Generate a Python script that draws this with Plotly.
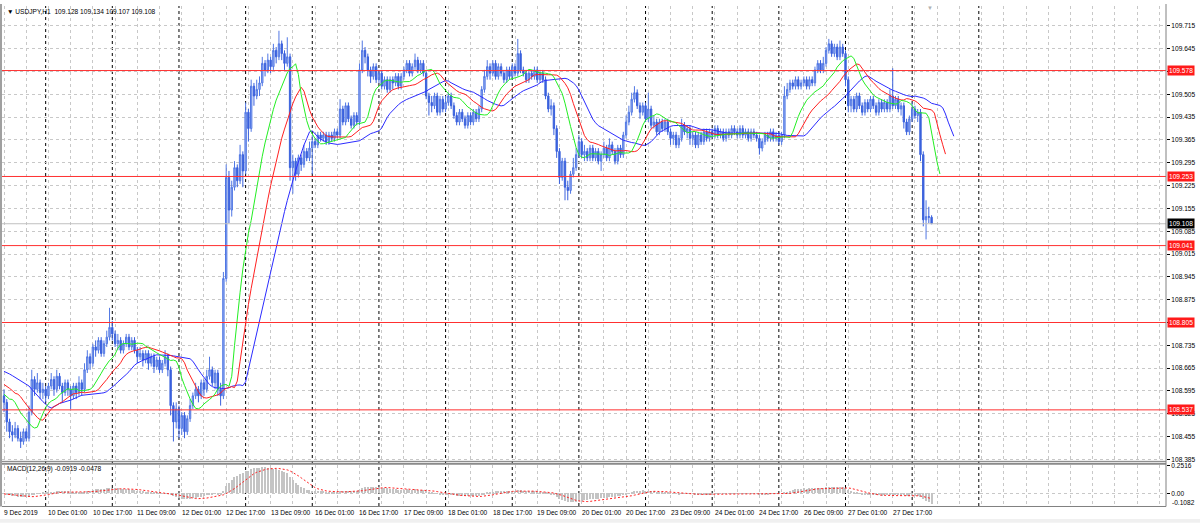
import plotly.graph_objects as go

# ---------------- data ----------------
first_open = 108.58

close = [
    108.56,108.50,108.47,108.46,108.48,108.45,108.44,108.47,108.45,108.53,108.63,108.60,108.62,108.59,108.60,108.58,
    108.61,108.63,108.60,108.64,108.61,108.59,108.62,108.60,108.58,108.61,108.59,108.62,108.60,108.66,108.70,108.68,
    108.73,108.72,108.75,108.71,108.74,108.76,108.79,108.77,108.74,108.75,108.72,108.74,108.76,108.73,108.75,108.72,
    108.70,108.71,108.69,108.71,108.68,108.70,108.67,108.69,108.66,108.68,108.70,108.66,108.55,108.50,108.54,108.48,
    108.52,108.47,108.51,108.55,108.58,108.60,108.58,108.62,108.60,108.64,108.66,108.62,108.65,108.60,108.58,108.94,
    109.25,109.15,109.22,109.28,109.24,109.32,109.27,109.45,109.40,109.53,109.50,109.52,109.54,109.60,109.58,109.61,
    109.59,109.64,109.62,109.66,109.63,109.60,109.62,109.28,109.30,109.26,109.31,109.29,109.33,109.31,109.34,109.36,
    109.35,109.38,109.37,109.38,109.36,109.38,109.37,109.39,109.38,109.46,109.42,109.47,109.43,109.41,109.44,109.42,
    109.58,109.64,109.62,109.58,109.56,109.59,109.55,109.57,109.53,109.55,109.52,109.55,109.54,109.56,109.53,109.56,
    109.58,109.60,109.57,109.59,109.61,109.58,109.60,109.57,109.50,109.48,109.47,109.50,109.45,109.49,109.46,109.48,
    109.50,109.47,109.44,109.42,109.45,109.43,109.41,109.44,109.42,109.45,109.43,109.46,109.52,109.56,109.59,109.57,
    109.60,109.56,109.59,109.57,109.55,109.58,109.56,109.59,109.57,109.63,109.58,109.57,109.55,109.57,109.56,109.58,
    109.55,109.57,109.55,109.50,109.46,109.47,109.40,109.33,109.25,109.30,109.22,109.21,109.26,109.28,109.32,109.36,
    109.32,109.33,109.31,109.34,109.31,109.33,109.30,109.32,109.34,109.31,109.35,109.33,109.30,109.34,109.32,109.38,
    109.42,109.45,109.49,109.51,109.47,109.45,109.47,109.43,109.46,109.41,109.42,109.39,109.42,109.40,109.42,109.39,
    109.37,109.38,109.35,109.37,109.41,109.39,109.40,109.37,109.38,109.35,109.38,109.36,109.39,109.37,109.39,109.38,
    109.40,109.38,109.39,109.37,109.39,109.38,109.40,109.39,109.38,109.40,109.38,109.39,109.37,109.39,109.38,109.37,
    109.34,109.36,109.38,109.37,109.39,109.37,109.38,109.36,109.38,109.50,109.52,109.54,109.53,109.55,109.53,109.54,
    109.55,109.53,109.55,109.54,109.58,109.60,109.58,109.60,109.64,109.66,109.63,109.65,109.62,109.65,109.63,109.55,
    109.47,109.49,109.46,109.50,109.47,109.45,109.48,109.46,109.49,109.47,109.45,109.48,109.46,109.48,109.46,109.50,
    109.47,109.49,109.46,109.47,109.42,109.39,109.43,109.46,109.44,109.45,109.32,109.12,109.13,109.128,109.108,
]

high = [
    108.60,108.57,108.51,108.49,108.50,108.49,108.47,108.48,108.48,108.55,108.66,108.64,108.65,108.63,108.62,108.61,
    108.62,108.65,108.64,108.66,108.65,108.62,108.63,108.63,108.61,108.62,108.62,108.64,108.63,108.68,108.72,108.71,
    108.74,108.75,108.76,108.76,108.75,108.78,108.85,108.81,108.78,108.77,108.76,108.75,108.77,108.77,108.76,108.76,
    108.73,108.73,108.72,108.72,108.72,108.71,108.71,108.70,108.70,108.69,108.72,108.71,108.67,108.56,108.56,108.55,
    108.53,108.53,108.52,108.57,108.59,108.62,108.61,108.63,108.63,108.66,108.70,108.67,108.66,108.66,108.62,108.96,
    109.29,109.27,109.24,109.30,109.29,109.35,109.33,109.48,109.46,109.55,109.54,109.55,109.56,109.62,109.61,109.63,
    109.62,109.66,109.65,109.70,109.67,109.64,109.68,109.63,109.32,109.31,109.32,109.32,109.35,109.34,109.36,109.38,
    109.37,109.39,109.39,109.39,109.39,109.39,109.39,109.40,109.40,109.49,109.47,109.48,109.48,109.44,109.45,109.45,
    109.60,109.67,109.65,109.63,109.59,109.60,109.60,109.58,109.58,109.56,109.56,109.56,109.56,109.57,109.57,109.57,
    109.59,109.61,109.61,109.60,109.63,109.62,109.61,109.61,109.58,109.51,109.50,109.51,109.51,109.50,109.50,109.50,
    109.51,109.51,109.48,109.45,109.46,109.46,109.44,109.45,109.45,109.46,109.46,109.47,109.53,109.58,109.61,109.60,
    109.61,109.61,109.60,109.60,109.58,109.59,109.59,109.60,109.60,109.675,109.64,109.59,109.58,109.58,109.58,109.59,
    109.59,109.58,109.58,109.56,109.51,109.49,109.48,109.41,109.34,109.31,109.31,109.24,109.27,109.31,109.34,109.38,
    109.37,109.35,109.34,109.35,109.35,109.34,109.34,109.33,109.36,109.35,109.37,109.36,109.34,109.35,109.35,109.39,
    109.44,109.47,109.51,109.53,109.52,109.48,109.48,109.48,109.51,109.47,109.44,109.43,109.43,109.43,109.43,109.43,
    109.40,109.39,109.39,109.38,109.43,109.42,109.41,109.41,109.39,109.39,109.39,109.39,109.40,109.40,109.40,109.40,
    109.41,109.41,109.40,109.40,109.40,109.40,109.41,109.41,109.40,109.41,109.41,109.40,109.40,109.40,109.40,109.39,
    109.38,109.37,109.39,109.39,109.40,109.40,109.39,109.39,109.39,109.53,109.54,109.55,109.55,109.56,109.56,109.55,
    109.56,109.56,109.56,109.56,109.59,109.61,109.61,109.62,109.65,109.675,109.67,109.66,109.66,109.67,109.66,109.64,
    109.56,109.50,109.50,109.51,109.51,109.48,109.49,109.49,109.50,109.50,109.48,109.49,109.49,109.49,109.49,109.52,
    109.585,109.50,109.50,109.48,109.48,109.43,109.44,109.48,109.47,109.46,109.46,109.33,109.18,109.16,109.134,
]

low = [
    108.53,108.47,108.45,108.44,108.45,108.44,108.42,108.43,108.44,108.44,108.52,108.58,108.59,108.57,108.57,108.56,
    108.57,108.60,108.58,108.59,108.60,108.56,108.58,108.58,108.54,108.57,108.57,108.58,108.58,108.59,108.65,108.66,
    108.67,108.70,108.71,108.70,108.70,108.73,108.75,108.75,108.73,108.72,108.71,108.71,108.73,108.72,108.72,108.71,
    108.68,108.69,108.67,108.68,108.66,108.67,108.65,108.66,108.65,108.65,108.67,108.64,108.52,108.44,108.48,108.45,
    108.46,108.45,108.46,108.50,108.54,108.57,108.56,108.57,108.58,108.59,108.63,108.61,108.60,108.58,108.55,108.57,
    108.93,109.11,109.13,109.21,109.22,109.23,109.22,109.26,109.36,109.39,109.47,109.49,109.50,109.53,109.56,109.57,
    109.57,109.58,109.60,109.61,109.61,109.58,109.59,109.24,109.20,109.24,109.25,109.27,109.28,109.30,109.30,109.26,
    109.34,109.34,109.36,109.36,109.35,109.35,109.36,109.36,109.37,109.37,109.41,109.41,109.42,109.40,109.40,109.41,
    109.41,109.57,109.60,109.56,109.54,109.55,109.54,109.54,109.52,109.52,109.51,109.51,109.52,109.53,109.52,109.52,
    109.55,109.57,109.56,109.56,109.58,109.57,109.57,109.56,109.49,109.44,109.45,109.46,109.44,109.44,109.45,109.45,
    109.47,109.46,109.43,109.41,109.41,109.42,109.40,109.40,109.41,109.41,109.42,109.42,109.45,109.51,109.55,109.55,
    109.56,109.55,109.55,109.56,109.54,109.54,109.55,109.55,109.56,109.56,109.57,109.56,109.54,109.54,109.55,109.55,
    109.54,109.54,109.54,109.49,109.45,109.44,109.38,109.31,109.23,109.24,109.18,109.18,109.20,109.25,109.27,109.31,
    109.31,109.30,109.30,109.30,109.30,109.30,109.29,109.27,109.31,109.30,109.30,109.32,109.29,109.29,109.31,109.31,
    109.37,109.41,109.44,109.48,109.46,109.43,109.44,109.42,109.42,109.40,109.40,109.38,109.38,109.39,109.39,109.38,
    109.35,109.35,109.34,109.34,109.36,109.38,109.37,109.35,109.35,109.34,109.34,109.35,109.35,109.36,109.36,109.37,
    109.37,109.37,109.37,109.36,109.36,109.37,109.37,109.38,109.37,109.37,109.37,109.37,109.36,109.36,109.37,109.36,
    109.32,109.33,109.35,109.36,109.36,109.36,109.36,109.35,109.35,109.37,109.49,109.51,109.52,109.52,109.52,109.52,
    109.53,109.52,109.52,109.53,109.53,109.57,109.57,109.57,109.59,109.63,109.62,109.62,109.61,109.61,109.62,109.53,
    109.45,109.45,109.45,109.45,109.46,109.44,109.44,109.45,109.45,109.46,109.44,109.44,109.45,109.45,109.45,109.45,
    109.46,109.46,109.45,109.44,109.40,109.38,109.38,109.42,109.43,109.42,109.30,109.10,109.06,109.11,109.107,
]

# Alligator line values at the very left edge (before enough bars exist)
jaw_lead = [108.655, 108.652, 108.647, 108.642, 108.637, 108.632, 108.627, 108.622]
teeth_lead = [108.615, 108.610, 108.603, 108.596, 108.588]
lips_lead = [108.585, 108.578, 108.570]

time_labels = ["9 Dec 2019", "10 Dec 01:00", "10 Dec 17:00", "11 Dec 09:00", "12 Dec 01:00",
               "12 Dec 17:00", "13 Dec 09:00", "16 Dec 01:00", "16 Dec 17:00", "17 Dec 09:00",
               "18 Dec 01:00", "18 Dec 17:00", "19 Dec 09:00", "20 Dec 01:00", "20 Dec 17:00",
               "23 Dec 09:00", "24 Dec 01:00", "24 Dec 17:00", "26 Dec 09:00", "27 Dec 01:00",
               "27 Dec 17:00"]

price_ticks = [109.715, 109.645, 109.575, 109.505, 109.435, 109.365, 109.295, 109.225, 109.155,
               109.085, 109.015, 108.945, 108.875, 108.805, 108.735, 108.665, 108.595, 108.525,
               108.455, 108.385]
# grid prices whose label is fully hidden under a level label box in the reference
hidden_tick_labels = [109.575, 108.805]

level_lines = [109.578, 109.253, 109.041, 108.805, 108.537]
bid_price = 109.108
macd_top, macd_bottom = 0.2516, -0.1082
macd_ticks = [0.2516, 0.0]
macd_ticktext = ["0.2516", "0.00"]
macd_bottom_text = "-0.1082"
title_text = "▼ USDJPY,H1  109.128 109.134 109.107 109.108"
macd_text = "MACD(12,26,9) -0.0919 -0.0478"

assert len(close) == len(high) == len(low)
n = len(close)
xs = list(range(n))
opens = [first_open] + close[:-1]

# ---------------- indicators ----------------
median = [(h + l) / 2 for h, l in zip(high, low)]


def smma(vals, period, seed):
    out, s = [], seed
    for v in vals:
        s = (s * (period - 1) + v) / period
        out.append(s)
    return out


jaw = jaw_lead + smma(median, 13, jaw_lead[-1])
teeth = teeth_lead + smma(median, 8, teeth_lead[-1])
lips = lips_lead + smma(median, 5, lips_lead[-1])


def ema(vals, period, seed):
    a = 2 / (period + 1)
    out, s = [], seed
    for v in vals:
        s = s + a * (v - s)
        out.append(s)
    return out


e12 = ema(close, 12, first_open)
e26 = ema(close, 26, first_open)
macd = [a - b for a, b in zip(e12, e26)]
signal = []
for i in range(n):
    w = macd[max(0, i - 8):i + 1]
    signal.append(sum(w) / len(w))

# ---------------- geometry ----------------
PL, PR, PT, PB = 2, 1166, 2, 506
W, H = PR - PL, PB - PT


def py(y):
    return (PB - y) / H


def px(x):
    return (x - PL) / W


X_RANGE = [-0.72, 418.4]
FONT = "Liberation Sans"
FS = 6.6

fig = go.Figure()

fig.add_trace(go.Candlestick(
    x=xs, open=opens, high=high, low=low, close=close,
    increasing=dict(line=dict(color="#5077e4", width=1), fillcolor="#9fb4f1"),
    decreasing=dict(line=dict(color="#3a61dd", width=1), fillcolor="#3a61dd"),
    whiskerwidth=0, xaxis="x", yaxis="y", hoverinfo="skip", showlegend=False))

fig.add_trace(go.Scatter(x=list(range(len(jaw))), y=jaw, mode="lines",
                         line=dict(color="#2b2bff", width=1), xaxis="x", yaxis="y",
                         showlegend=False, hoverinfo="skip"))
fig.add_trace(go.Scatter(x=list(range(len(teeth))), y=teeth, mode="lines",
                         line=dict(color="#ff2020", width=1), xaxis="x", yaxis="y",
                         showlegend=False, hoverinfo="skip"))
fig.add_trace(go.Scatter(x=list(range(len(lips))), y=lips, mode="lines",
                         line=dict(color="#22ee22", width=1), xaxis="x", yaxis="y",
                         showlegend=False, hoverinfo="skip"))

fig.add_trace(go.Bar(x=xs, y=macd, width=0.4, marker=dict(color="#c4c4c4", line=dict(width=0)),
                     xaxis="x2", yaxis="y2", showlegend=False, hoverinfo="skip"))
fig.add_trace(go.Scatter(x=xs, y=signal, mode="lines",
                         line=dict(color="#ff2020", width=1, dash="2px,2px"),
                         xaxis="x2", yaxis="y2", showlegend=False, hoverinfo="skip"))

grid_x = list(range(0, 419, 8))
axis_common = dict(range=X_RANGE, tickvals=grid_x, showticklabels=False, showgrid=True,
                   gridcolor="#c8c8c8", griddash="3px,3px", gridwidth=1, zeroline=False,
                   showline=False, ticks="", fixedrange=True)

shapes = []
# day separators
for b in range(15, 352, 24):
    shapes.append(dict(type="line", xref="x", yref="paper", x0=b, x1=b, y0=py(PB), y1=1,
                       line=dict(color="#000000", width=1, dash="3px,3px"), layer="below"))
# level lines
for p in level_lines:
    shapes.append(dict(type="line", xref="paper", yref="y", x0=0, x1=1, y0=p, y1=p,
                       line=dict(color="#ff3030", width=1)))
shapes.append(dict(type="line", xref="paper", yref="y", x0=0, x1=1, y0=bid_price, y1=bid_price,
                   line=dict(color="#c0c0c0", width=1)))
# frame pieces
shapes += [
    dict(type="line", xref="paper", yref="paper", x0=0, x1=1, y0=py(461), y1=py(461),
         line=dict(color="#7a7a7a", width=1)),
    dict(type="line", xref="paper", yref="paper", x0=0, x1=1, y0=py(463.5), y1=py(463.5),
         line=dict(color="#8a8a8a", width=2)),
    dict(type="line", xref="paper", yref="paper", x0=0, x1=1, y0=py(506.5), y1=py(506.5),
         line=dict(color="#808080", width=1)),
    dict(type="line", xref="paper", yref="paper", x0=1, x1=1, y0=py(506.5), y1=py(0),
         line=dict(color="#808080", width=1)),
    dict(type="line", xref="paper", yref="paper", x0=px(1), x1=px(1), y0=py(506.5), y1=py(0),
         line=dict(color="#a0a0a0", width=2)),
    dict(type="rect", xref="paper", yref="paper", x0=px(0), x1=px(1200), y0=py(519), y1=py(523),
         fillcolor="#f0f0f0", line=dict(width=0), layer="below"),
]

annotations = []
for p in level_lines:
    annotations.append(dict(xref="paper", yref="y", x=1, y=p, xanchor="left", yanchor="middle",
                            xshift=1, text=f"{p:.3f}", showarrow=False,
                            font=dict(family=FONT, size=FS, color="#ffffff"),
                            bgcolor="#ff1a1a", borderpad=1))
annotations.append(dict(xref="paper", yref="y", x=1, y=bid_price, xanchor="left", yanchor="middle",
                        xshift=1, text=f"{bid_price:.3f}", showarrow=False,
                        font=dict(family=FONT, size=FS, color="#ffffff"),
                        bgcolor="#000000", borderpad=1))
annotations.append(dict(xref="paper", yref="paper", x=px(5), y=py(8), xanchor="left",
                        yanchor="middle", text=title_text, showarrow=False,
                        font=dict(family=FONT, size=FS, color="#000000")))
annotations.append(dict(xref="paper", yref="paper", x=px(5), y=py(469), xanchor="left",
                        yanchor="middle", text=macd_text, showarrow=False,
                        font=dict(family=FONT, size=FS, color="#000000")))
annotations.append(dict(xref="paper", yref="paper", x=1, y=py(502.5), xanchor="left",
                        yanchor="middle", xshift=4, text=macd_bottom_text, showarrow=False,
                        font=dict(family=FONT, size=FS, color="#000000")))
for i, lab in enumerate(time_labels):
    annotations.append(dict(xref="x2", yref="paper", x=16 * i, y=py(512.5), xanchor="left",
                            yanchor="middle", xshift=-2, text=lab, showarrow=False,
                            font=dict(family=FONT, size=FS, color="#000000")))
annotations.append(dict(xref="x", yref="paper", x=333.5, y=py(4), xanchor="center",
                        yanchor="middle", text="▼", showarrow=False,
                        font=dict(family=FONT, size=6, color="#b0b0b0")))

price_ticktext = ["" if v in hidden_tick_labels else f"{v:.3f}" for v in price_ticks]

fig.update_layout(
    width=1200, height=523,
    margin=dict(l=PL, r=1200 - PR, t=PT, b=523 - PB, pad=0),
    paper_bgcolor="#ffffff", plot_bgcolor="#ffffff",
    showlegend=False, bargap=0, dragmode=False,
    font=dict(family=FONT, size=FS, color="#000000"),
    xaxis=dict(anchor="y", domain=[0, 1], rangeslider=dict(visible=False), **axis_common),
    xaxis2=dict(anchor="y2", domain=[0, 1], matches="x", **axis_common),
    yaxis=dict(anchor="x", domain=[py(461), 1], range=[108.379, 109.776], side="right",
               tickvals=price_ticks, ticktext=price_ticktext,
               showgrid=True, gridcolor="#c8c8c8", griddash="3px,3px", zeroline=False,
               ticks="outside", ticklen=3, tickcolor="#000000", showline=False,
               tickfont=dict(family=FONT, size=FS, color="#000000"), fixedrange=True),
    yaxis2=dict(anchor="x2", domain=[0, py(465)], range=[macd_bottom, macd_top], side="right",
                tickvals=macd_ticks, ticktext=macd_ticktext,
                showgrid=True, gridcolor="#c8c8c8", griddash="3px,3px", zeroline=False,
                ticks="outside", ticklen=3, tickcolor="#000000", showline=False,
                tickfont=dict(family=FONT, size=FS, color="#000000"), fixedrange=True),
    shapes=shapes, annotations=annotations,
)

fig.write_html("out.html", config={"displayModeBar": False},
               post_script="document.body.style.margin='0px';document.body.style.overflow='hidden';")
